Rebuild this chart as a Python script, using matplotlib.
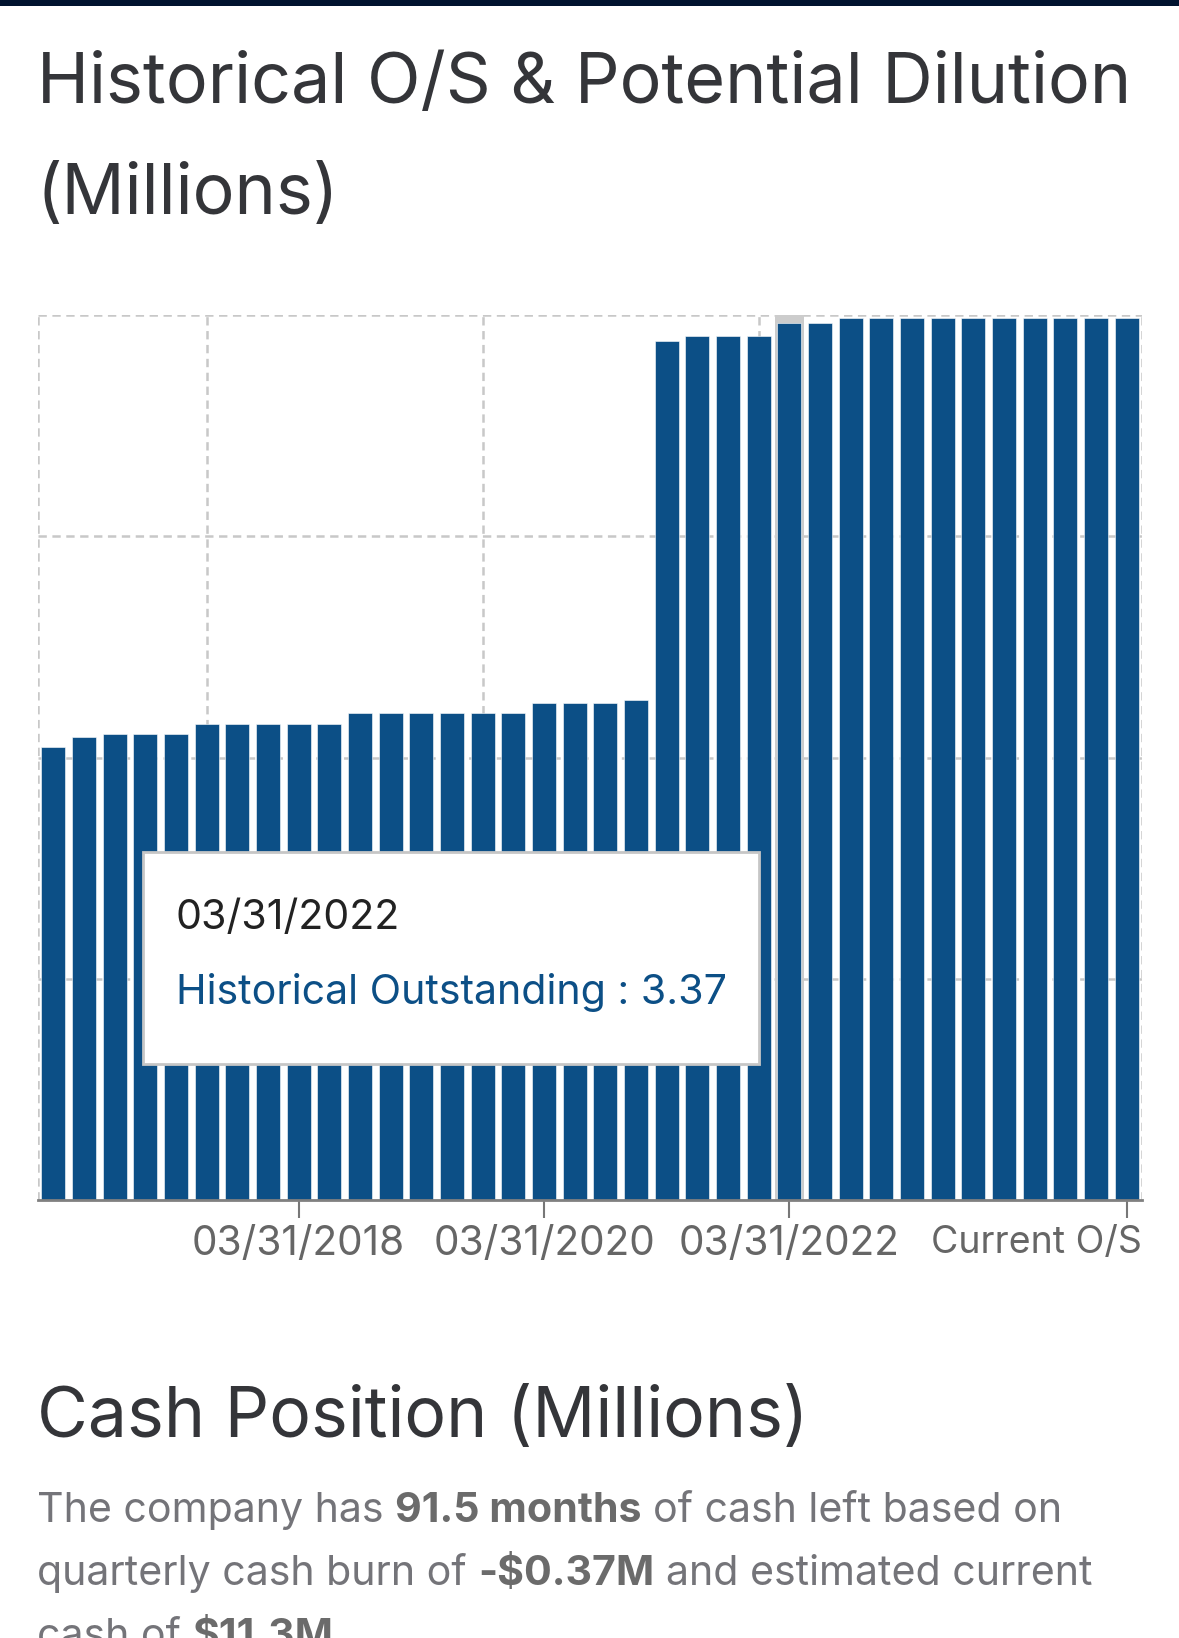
import matplotlib
matplotlib.use("Agg")
import matplotlib.pyplot as plt
from matplotlib.patches import Rectangle
import matplotlib.transforms as mtransforms

# ---------------- data ----------------
categories = [
    "03/31/2016", "06/30/2016", "09/30/2016", "12/31/2016",
    "03/31/2017", "06/30/2017", "09/30/2017", "12/31/2017",
    "03/31/2018", "06/30/2018", "09/30/2018", "12/31/2018",
    "03/31/2019", "06/30/2019", "09/30/2019", "12/31/2019",
    "03/31/2020", "06/30/2020", "09/30/2020", "12/31/2020",
    "03/31/2021", "06/30/2021", "09/30/2021", "12/31/2021",
    "03/31/2022", "06/30/2022", "09/30/2022", "12/31/2022",
    "03/31/2023", "06/30/2023", "09/30/2023", "12/31/2023",
    "03/31/2024", "06/30/2024", "09/30/2024", "Current O/S",
]
outstanding = [
    1.74, 1.78, 1.79, 1.79, 1.79,
    1.83, 1.83, 1.83, 1.83, 1.83,
    1.87, 1.87, 1.87, 1.87, 1.87, 1.87,
    1.91, 1.91, 1.91, 1.92,
    3.30, 3.32, 3.32, 3.32, 3.37, 3.37,
    3.39, 3.39, 3.39, 3.39, 3.39, 3.39, 3.39, 3.39, 3.39, 3.39,
]
tick_labels = ["03/31/2018", "03/31/2020", "03/31/2022", "Current O/S"]
grid_categories = ["06/30/2017", "09/30/2019", "12/31/2021"]
y_gridlines = [0.85, 1.70, 2.55, 3.40]
y_max = 3.40
hover_category = "03/31/2022"
tooltip_series = "Historical Outstanding"

title = "Historical O/S & Potential Dilution\n(Millions)"
cash_title = "Cash Position (Millions)"
body_lines = [
    [("The company has ", False), ("91.5 months", True), (" of cash left based on", False)],
    [("quarterly cash burn of ", False), ("-$0.37M", True), (" and estimated current", False)],
    [("cash of ", False), ("$11.3M", True), (".", False)],
]

# ---------------- style ----------------
W, H = 1179, 1638
DPI = 100
FONT = ["Inter", "DejaVu Sans"]
plt.rcParams["font.family"] = FONT
plt.rcParams["lines.scale_dashes"] = False

BAR = "#0c4f86"
GRID = "#c8c8c8"

fig = plt.figure(figsize=(W / DPI, H / DPI), dpi=DPI)
fig.patch.set_facecolor("white")


def fx(px):
    return px / W


def fy(py):
    return 1 - py / H


# top dark band
fig.add_artist(Rectangle((0, fy(6)), 1, 6 / H, transform=fig.transFigure,
                         facecolor="#00132f", edgecolor="none"))

# ---------------- axes ----------------
L, R, T, B = 38, 1142, 315, 1200
ax = fig.add_axes([fx(L), fy(B), (R - L) / W, (B - T) / H])
n = len(categories)
xs = list(range(n))
ax.set_xlim(-0.5, n - 0.5)
ax.set_ylim(0, y_max)

dash = (0, (6, 4))
lw_grid = 1.8
for yv in y_gridlines:
    ax.axhline(yv, color=GRID, lw=lw_grid, ls=dash, zorder=0)
for c in grid_categories:
    ax.axvline(categories.index(c), color=GRID, lw=lw_grid, ls=dash, zorder=0)
ax.axvline(-0.5, color=GRID, lw=lw_grid, ls=dash, zorder=0)
ax.axvline(n - 0.5, color=GRID, lw=lw_grid, ls=dash, zorder=0)

hi = categories.index(hover_category)
ax.axvspan(hi - 0.47, hi + 0.47, color="#cccccc", zorder=1, lw=0)

ax.bar(xs, outstanding, width=0.78, color=BAR, edgecolor="#ffffff",
       linewidth=0.4, zorder=2)

for s in ["top", "left", "right"]:
    ax.spines[s].set_visible(False)
ax.spines["bottom"].set_color("#808080")
ax.spines["bottom"].set_linewidth(2.0)
ax.spines["bottom"].set_zorder(3)
ax.set_yticks([])

tick_pos = [categories.index(t) for t in tick_labels]
ax.set_xticks(tick_pos)
ax.set_xticklabels(tick_labels)
ax.tick_params(axis="x", length=13, width=1.5, color="#777777",
               labelsize=29.2, labelcolor="#666666", pad=5)
# keep last label within plot area (right aligned at plot edge)
last = ax.get_xticklabels()[-1]
last.set_ha("right")
last.set_fontsize(27)
offset = mtransforms.ScaledTranslation(15 / DPI, 0, fig.dpi_scale_trans)
last.set_transform(last.get_transform() + offset)

# ---------------- tooltip ----------------
tx0, ty0, tx1, ty1 = 143, 852, 759, 1064
fig.add_artist(Rectangle((fx(tx0), fy(ty1)), (tx1 - tx0) / W, (ty1 - ty0) / H,
                         transform=fig.transFigure, facecolor="white",
                         edgecolor="#c6c6c6", linewidth=2.0, zorder=5))
val = outstanding[hi]
fig.text(fx(176), fy(929), hover_category, fontsize=29.6, color="#222222",
         va="baseline", ha="left", zorder=6)
fig.text(fx(176), fy(1004), f"{tooltip_series} : {val:.2f}", fontsize=29.6,
         color=BAR, va="baseline", ha="left", zorder=6)

# ---------------- titles ----------------
TITLE_C = "#343539"
l1, l2 = title.split("\n")
fig.text(fx(37), fy(103), l1, fontsize=50.4, color=TITLE_C, va="baseline", ha="left")
fig.text(fx(37), fy(214), l2, fontsize=50.4, color=TITLE_C, va="baseline", ha="left")
fig.text(fx(37), fy(1437), cash_title, fontsize=50.2, color=TITLE_C, va="baseline", ha="left")

# ---------------- body text ----------------
renderer = fig.canvas.get_renderer()
BODY_FS = 29.6
REG_C = "#747479"
BOLD_C = "#6b6b6b"


def width_px(s, bold):
    t = fig.text(0, 0, s, fontsize=BODY_FS, fontweight="bold" if bold else "normal",
                 parse_math=False)
    w = t.get_window_extent(renderer).width
    t.remove()
    return w


space_w = width_px("a a", False) - width_px("aa", False)
baselines = [1522, 1585, 1648]
for line, base in zip(body_lines, baselines):
    x = 37.0
    for piece, bold in line:
        lead = len(piece) - len(piece.lstrip(" "))
        trail = len(piece) - len(piece.rstrip(" "))
        x += lead * space_w
        core = piece.strip(" ")
        t = fig.text(fx(x), fy(base), core, fontsize=BODY_FS,
                     fontweight="bold" if bold else "normal",
                     color=BOLD_C if bold else REG_C, va="baseline", ha="left",
                     parse_math=False)
        x += t.get_window_extent(renderer).width
        x += trail * space_w

fig.savefig("out.png", dpi=DPI, facecolor="white")
